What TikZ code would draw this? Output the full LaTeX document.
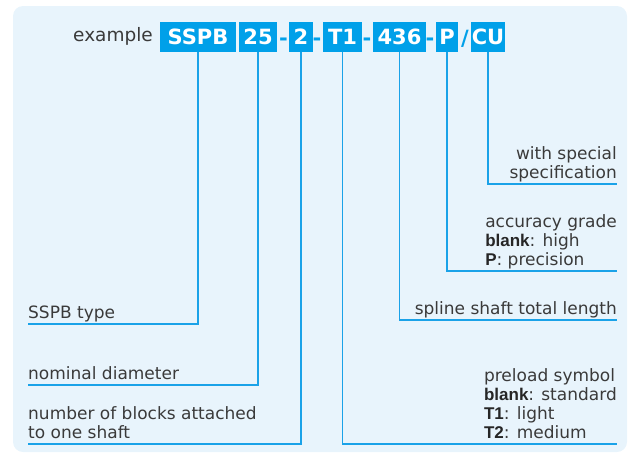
\documentclass[tikz,border=0pt]{standalone}
\usepackage{fontspec}
\setmainfont{DejaVu Sans}
\newfontfamily\keyfont{Liberation Sans}
\usetikzlibrary{calc}
\definecolor{ink}{HTML}{3A3A3A}
\definecolor{pale}{HTML}{E8F4FC}
\definecolor{code}{HTML}{00A0E9}
\definecolor{lead}{HTML}{1AA2E8}
\newcommand{\key}[1]{{\keyfont\bfseries\color{black!85}#1}}

\begin{document}
\begin{tikzpicture}[x=1pt,y=-1pt,
  box/.style={fill=code,text=white,inner sep=0pt,minimum height=30pt,font=\fontsize{21}{23}\selectfont\bfseries},
  sep/.style={text=code,inner sep=0pt,font=\fontsize{21}{23}\selectfont\bfseries},
  lbl/.style={text=ink,inner xsep=0pt,inner ysep=5.5pt,text depth=0pt,font=\fontsize{17}{19}\selectfont},
  lead/.style={draw=lead,line width=1.4pt}]
\useasboundingbox (0,0) rectangle (628,453);
% panel
\fill[pale,rounded corners=10pt] (13,6) rectangle (627,452);
% part number
\node[text=ink,inner sep=0pt,anchor=base west,font=\fontsize{18.5}{20}\selectfont] (ex) at (73,41) {example};
\node[box,minimum width=76pt] (sspb) at (198,37) {SSPB};
\node[box,minimum width=38pt] (d25) at (258,37) {25};
\node[sep,anchor=base] (h1) at (283.5,45) {-};
\node[box,minimum width=24pt] (n2) at (301,37) {2};
\node[sep,anchor=base] (h2) at (317,45) {-};
\node[box,minimum width=39pt] (t1) at (342.5,37) {T1};
\node[sep,anchor=base] (h3) at (367,45) {-};
\node[box,minimum width=53pt] (len) at (399.5,37) {436};
\node[sep,anchor=base] (h4) at (430,45) {-};
\node[box,minimum width=22pt] (acc) at (447,37) {P};
\node[sep,anchor=base] (sl) at (465,45) {/};
\node[box,minimum width=34pt] (cu) at (488,37) {CU};
% left labels
\node[lbl,anchor=south west] (lsspb) at (28,324) {SSPB type};
\node[lbl,anchor=south west] (ldia) at (28,385) {nominal diameter};
\node[lbl,anchor=south west,align=left] (lblk) at (28,444) {number of blocks attached\\to one shaft};
% right labels
\node[lbl,anchor=south east,align=right] (lcu) at (617,184) {with special\\specification};
\node[lbl,anchor=south east,align=left] (lacc) at (617,271) {accuracy grade\\\key{blank}: high\\\key{P}: precision};
\node[lbl,anchor=south east] (llen) at (617,320) {spline shaft total length};
\node[lbl,anchor=south east,align=left] (lpre) at (617,444) {preload symbol\\\key{blank}: standard\\\key{T1}: light\\\key{T2}: medium};
% leaders
\draw[lead] (sspb.south) |- (lsspb.south west);
\draw[lead] (d25.south) |- (ldia.south west);
\draw[lead] (n2.south) |- (lblk.south west);
\draw[lead] (t1.south) |- (lpre.south east);
\draw[lead] (len.south) |- (llen.south east);
\draw[lead] (acc.south) |- (lacc.south east);
\draw[lead] (cu.south) |- (lcu.south east);
\end{tikzpicture}
\end{document}
